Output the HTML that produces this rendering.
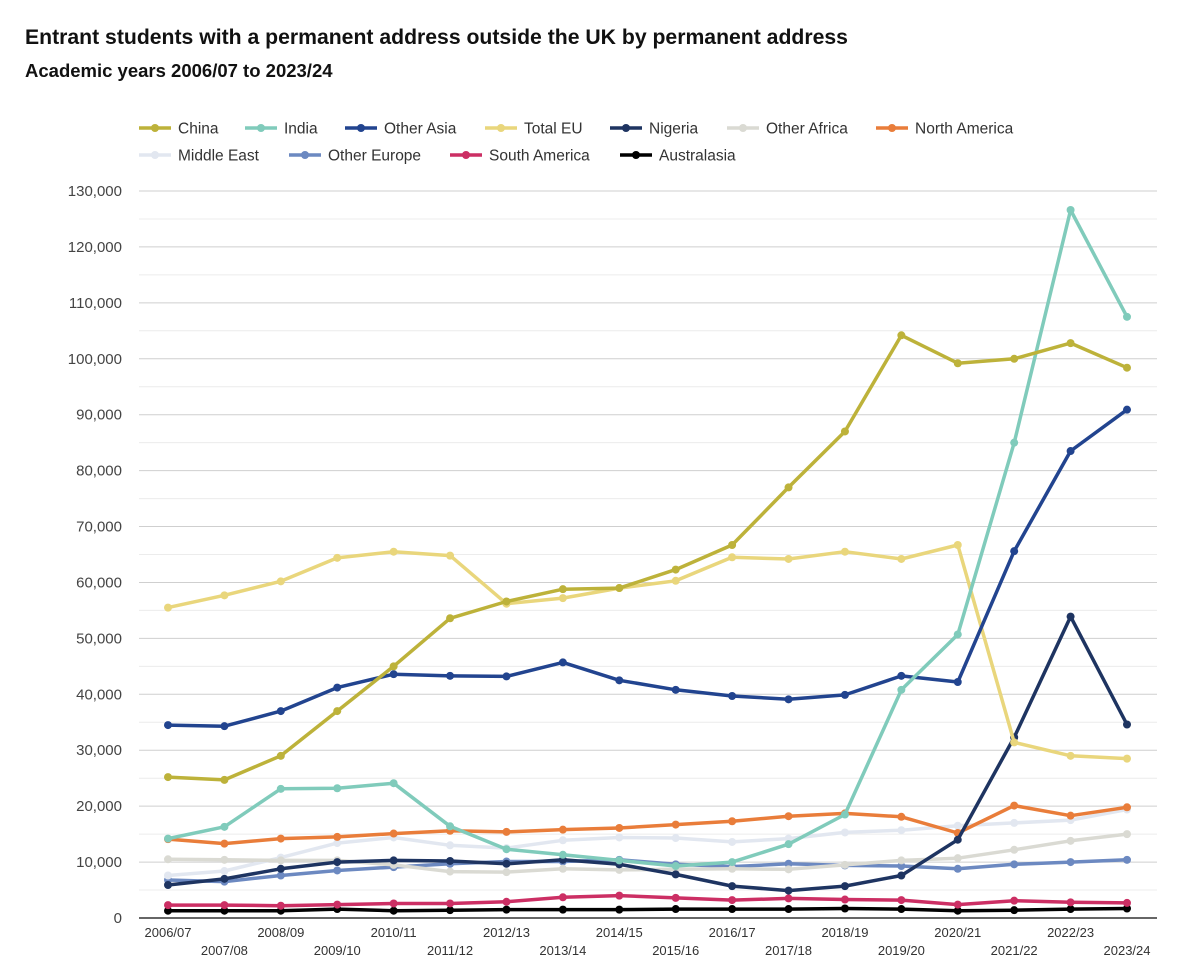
<!DOCTYPE html>
<html><head><meta charset="utf-8"><style>
body{margin:0;background:#fff;font-family:"Liberation Sans",sans-serif}
svg text{font-family:"Liberation Sans",sans-serif}
</style></head><body>
<svg width="1200" height="966" xmlns="http://www.w3.org/2000/svg" id="chart">
<text x="25" y="44" font-size="21.2" font-weight="bold" fill="#111">Entrant students with a permanent address outside the UK by permanent address</text>
<text x="25" y="77" font-size="18.5" font-weight="bold" fill="#111">Academic years 2006/07 to 2023/24</text>
<g id="grid"></g>
<g id="yaxis"></g>
<g id="xaxis"></g>
<g id="series"></g>
<g id="legend"></g>
</svg>
<script>
const categories=["2006/07","2007/08","2008/09","2009/10","2010/11","2011/12","2012/13","2013/14","2014/15","2015/16","2016/17","2017/18","2018/19","2019/20","2020/21","2021/22","2022/23","2023/24"];
const yTicks=[0,10000,20000,30000,40000,50000,60000,70000,80000,90000,100000,110000,120000,130000];
const seriesNames=["China","India","Other Asia","Total EU","Nigeria","Other Africa","North America","Middle East","Other Europe","South America","Australasia"];
const china=[25200,24700,29000,37000,45000,53600,56600,58800,59000,62300,66700,77000,87000,104200,99200,100000,102800,98400];
const india=[14200,16300,23100,23200,24100,16400,12300,11300,10300,9300,10000,13200,18500,40800,50700,85000,126600,107500];
const otherAsia=[34500,34300,37000,41200,43600,43300,43200,45700,42500,40800,39700,39100,39900,43300,42200,65600,83500,90900];
const totalEU=[55500,57700,60200,64400,65500,64800,56200,57200,59000,60300,64500,64200,65500,64200,66700,31400,29000,28500];
const nigeria=[5900,7000,8800,10000,10300,10200,9700,10400,9600,7800,5700,4900,5700,7600,14000,32300,53900,34600];
const otherAfrica=[10500,10400,10300,10300,9500,8300,8200,8800,8600,8700,8800,8700,9500,10300,10700,12200,13800,15000];
const northAmerica=[14100,13300,14200,14500,15100,15600,15400,15800,16100,16700,17300,18200,18700,18100,15200,20100,18300,19800];
const middleEast=[7600,8400,10800,13400,14400,13000,12500,13900,14400,14300,13600,14200,15300,15700,16500,17000,17500,19400];
const otherEurope=[6800,6500,7600,8500,9100,9700,10100,10100,10400,9600,9200,9700,9400,9300,8800,9600,10000,10400];
const southAmerica=[2300,2300,2200,2400,2600,2600,2900,3700,4000,3600,3200,3500,3300,3200,2400,3100,2800,2700];
const australasia=[1300,1300,1300,1600,1300,1400,1500,1500,1500,1600,1600,1600,1700,1600,1300,1400,1600,1700];

const NS="http://www.w3.org/2000/svg";
const X0=168,X1=1127,Y0=918,Y1=191,YMAX=130000,GL=139,GR=1157;
const x=i=>X0+(X1-X0)*i/(categories.length-1);
const y=v=>Y0-(Y0-Y1)*v/YMAX;
function mk(tag,attrs,parent){const e=document.createElementNS(NS,tag);for(const k in attrs)e.setAttribute(k,attrs[k]);parent.appendChild(e);return e;}
const grid=document.getElementById('grid'),ya=document.getElementById('yaxis'),xa=document.getElementById('xaxis'),sg=document.getElementById('series'),lg=document.getElementById('legend');
for(let v=5000;v<=YMAX;v+=5000){
  const major=v%10000===0;
  const l=mk('line',{x1:GL,x2:GR,y1:y(v),y2:y(v),stroke:major?'#cfcfcf':'#ececec','stroke-width':1},grid);
  
  
}
yTicks.forEach(v=>{
  const t=mk('text',{x:122,y:y(v)+5,'text-anchor':'end','font-size':15,fill:'#444'},ya);
  t.textContent=v.toLocaleString('en-US');
  
  
});
const base=mk('line',{x1:GL,x2:GR,y1:Y0,y2:Y0,stroke:'#333','stroke-width':1.5},xa);


categories.forEach((c,i)=>{
  const t=mk('text',{x:x(i),y:i%2?955:937,'text-anchor':'middle','font-size':13,fill:'#333'},xa);
  t.textContent=c;
  
  
});
const data=[china,india,otherAsia,totalEU,nigeria,otherAfrica,northAmerica,middleEast,otherEurope,southAmerica,australasia];
const colors=["#bdb23a","#80cbbb","#22448f","#e9d67c","#1e3461","#dadad3","#e97d3a","#e2e7f0","#6c89c1","#cc2f64","#000000"];
const drawOrder=[10,9,8,7,6,5,4,3,2,1,0];
drawOrder.forEach(si=>{
  const g=mk('g',{},sg);
  
  
  const d=data[si].map((v,i)=>(i?'L':'M')+x(i).toFixed(1)+','+y(v).toFixed(1)).join('');
  const p=mk('path',{d:d,fill:'none',stroke:colors[si],'stroke-width':3.5,'stroke-linejoin':'round'},g);
  
  
  data[si].forEach((v,i)=>{
    const c=mk('circle',{cx:x(i),cy:y(v),r:4,fill:colors[si]},g);
    
    
  });
});
const legendPos=[[139,128],[245,128],[345,128],[485,128],[610,128],[727,128],[876,128],[139,155],[289,155],[450,155],[620,155]];
seriesNames.forEach((n,i)=>{
  const [lx,ly]=legendPos[i];
  const g=mk('g',{},lg);
  
  
  mk('line',{x1:lx,x2:lx+32,y1:ly,y2:ly,stroke:colors[i],'stroke-width':3.5},g);
  mk('circle',{cx:lx+16,cy:ly,r:4,fill:colors[i]},g);
  const t=mk('text',{x:lx+39,y:ly+5.5,'font-size':15.5,fill:'#333'},g);
  t.textContent=n;
});
</script>
</body></html>
